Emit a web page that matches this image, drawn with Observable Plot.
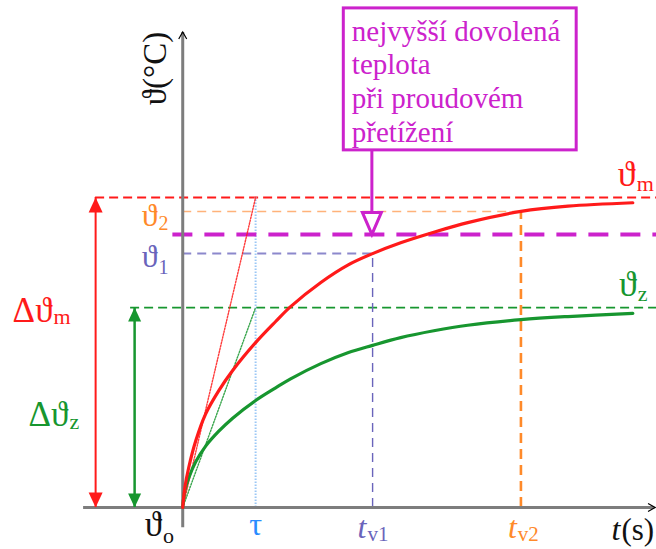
<!DOCTYPE html>
<html>
<head>
<meta charset="utf-8">
<script src="https://cdn.jsdelivr.net/npm/d3@7"></script>
<script src="https://cdn.jsdelivr.net/npm/@observablehq/plot@0.6"></script>
<style>
  html, body { margin: 0; padding: 0; background: #fff; }
  #chart svg { display: block; }
</style>
</head>
<body>
<div id="chart"></div>
<script>
// ---- data (t in s, temperatures in °C) ----
const tau = 20, tV1 = 52.1, tV2 = 92.8;
const theta0 = 20, thetaM = 120, theta2 = 115.5, thetaLimit = 108.1, theta1 = 101.9, thetaZ = 84.5;

const redT    = [0, 0.6, 1.65, 3.6, 6.3, 9.9, 13.7, 20, 25.5, 29.6, 37.9, 45.3, 52.1, 59.8, 68.9, 78.2, 92.8, 105.7, 123.5];
const redRise = [0, 6.5, 12.9, 21.6, 30.2, 37.7, 44.2, 53.2, 60.0, 64.8, 72.6, 78.2, 81.9, 85.4, 88.8, 91.9, 95.5, 97.2, 98.3];
const greenT    = [0, 0.6, 1.65, 3.6, 6.3, 9.9, 13.7, 20, 25.5, 29.6, 37.9, 45.3, 52.1, 59.8, 68.9, 78.2, 92.8, 105.7, 123.5];
const greenRise = [0, 5.5, 9.5, 14.8, 19.8, 24.6, 28.8, 34.5, 38.6, 41.5, 46.4, 49.9, 52.3, 54.8, 57.0, 58.8, 60.6, 61.6, 62.6];

const boxText = ["nejvyšší dovolená", "teplota", "při proudovém", "přetížení"];

const red = "#ff1a1a", green = "#17962f", magenta = "#cc22cc", orange = "#ff8a2a", orangeLight = "#ffb27a",
      purple = "#6a64bb", purpleLight = "#8c88cc", blue = "#2a8cff", blueLight = "#9cc8f5", axisGray = "#7d7d7d";

const redCurve = redT.map((t, i) => ({t, v: theta0 + redRise[i]}));
const greenCurve = greenT.map((t, i) => ({t, v: theta0 + greenRise[i]}));

// custom marker shapes (pixel geometry of symbols, tip at origin)
const tipUp = (w, h) => ({draw(c) { c.moveTo(0, 0); c.lineTo(-w / 2, h); c.lineTo(w / 2, h); c.closePath(); }});
const tipDown = (w, h) => ({draw(c) { c.moveTo(0, 0); c.lineTo(-w / 2, -h); c.lineTo(w / 2, -h); c.closePath(); }});
const chevUp = {draw(c) { c.moveTo(-4, 7); c.lineTo(0, 0); c.lineTo(4, 7); }};
const chevRight = {draw(c) { c.moveTo(-7, -4); c.lineTo(0, 0); c.lineTo(-7, 4); }};

const F = "'Liberation Serif', 'DejaVu Serif', serif";
const mctx = document.createElement("canvas").getContext("2d");
const textWidth = (s, size, style = "normal") => { mctx.font = `${style} ${size}px ${F}`; return mctx.measureText(s).width; };

const lbl = (text, x, y, fill, dx, dy, size, opts = {}) =>
  Plot.text([0], {x: () => x, y: () => y, text: () => text, fill, dx, dy, textAnchor: "start", lineAnchor: "bottom", fontSize: size, fontFamily: F, ...opts});
// base label followed by a subscript placed right after the measured base text
const lblSub = (base, subText, x, y, fill, dx, dy, subDy, size, subSize, style = "normal") => {
  const w = textWidth(base, size, style);
  return [lbl(base, x, y, fill, dx, dy, size, {fontStyle: style}), lbl(subText, x, y, fill, dx + w + 1, dy + subDy, subSize)];
};

const hseg = (v, a, b, stroke, strokeWidth, dash) =>
  Plot.ruleY([v], {x1: a, x2: b, stroke, strokeWidth, strokeDasharray: dash});
const vseg = (t, a, b, stroke, strokeWidth, dash) =>
  Plot.ruleX([t], {y1: a, y2: b, stroke, strokeWidth, strokeDasharray: dash});

const xLeft = -50, xRight = 130;
const redArrowT = -23.9, greenArrowT = -13.2;

const chart = Plot.plot({
  width: 656, height: 549,
  marginTop: 0, marginRight: 0, marginBottom: 0, marginLeft: 0,
  x: {domain: [xLeft, xRight], axis: null},
  y: {domain: [6.45, 183.55], axis: null},
  style: {fontFamily: F, background: "#fff"},
  marks: [
    // reference levels
    hseg(thetaM, redArrowT, xRight, red, 1.8, "9,5"),
    hseg(theta2, 0, tV2, orangeLight, 1.6, "9,6"),
    hseg(theta1, 0, tV1, purpleLight, 2, "9,6"),
    hseg(thetaZ, -14.3, xRight, green, 1.8, "9,5"),
    vseg(tau, theta0, thetaM, blueLight, 2, "1.5,1.5"),
    vseg(tV1, theta0, theta1, purple, 1.4, "9,6"),
    vseg(tV2, theta0, theta2, orange, 2.6, "10,6"),
    hseg(thetaLimit, -2.7, xRight, magenta, 4, "20,12"),
    // tangents
    Plot.line([{t: 0, v: theta0}, {t: tau, v: thetaM}], {x: "t", y: "v", stroke: red, strokeWidth: 1.4, strokeDasharray: "1.5,1.5", strokeOpacity: 0.85}),
    Plot.line([{t: 0, v: theta0}, {t: tau, v: thetaZ}], {x: "t", y: "v", stroke: green, strokeWidth: 1.4, strokeDasharray: "1.5,1.5", strokeOpacity: 0.85}),
    // axes
    hseg(theta0, -27.2, 129.3, axisGray, 3),
    vseg(0, 13.5, 173.2, axisGray, 3),
    Plot.dot([0], {x: () => 0, y: () => 173.4, symbol: chevUp, r: 5, fill: "none", stroke: "#000", strokeWidth: 1.2}),
    Plot.dot([0], {x: () => 129.6, y: () => theta0, symbol: chevRight, r: 5, fill: "none", stroke: "#000", strokeWidth: 1.2}),
    // curves
    Plot.line(greenCurve, {x: "t", y: "v", stroke: green, strokeWidth: 3.2, curve: "catmull-rom"}),
    Plot.line(redCurve, {x: "t", y: "v", stroke: red, strokeWidth: 3.2, curve: "catmull-rom"}),
    // delta arrows
    vseg(redArrowT, theta0, thetaM, red, 2),
    Plot.dot([0], {x: () => redArrowT, y: () => thetaM, symbol: tipUp(14, 15), r: 5, fill: red, stroke: "none"}),
    Plot.dot([0], {x: () => redArrowT, y: () => theta0, symbol: tipDown(14, 15), r: 5, fill: red, stroke: "none"}),
    vseg(greenArrowT, theta0, thetaZ, green, 2.5),
    Plot.dot([0], {x: () => greenArrowT, y: () => thetaZ, symbol: tipUp(13, 14), r: 5, fill: green, stroke: "none"}),
    Plot.dot([0], {x: () => greenArrowT, y: () => theta0, symbol: tipDown(13, 14), r: 5, fill: green, stroke: "none"}),
    // annotation box
    Plot.rect([0], {x1: () => 44.2, x2: () => 108.1, y1: () => 135.2, y2: () => 181, fill: "#fff", stroke: magenta, strokeWidth: 3}),
    Plot.text([boxText.join("\n")], {x: () => 46.4, y: () => 178.4, text: d => d, textAnchor: "start", lineAnchor: "top", lineHeight: 1.17, fontSize: 29, fontFamily: F, fill: magenta}),
    vseg(51.9, theta2, 135.2, magenta, 3),
    Plot.dot([0], {x: () => 51.9, y: () => thetaLimit, symbol: tipDown(19, 22), r: 5, fill: "#fff", stroke: magenta, strokeWidth: 3}),
    // labels
    Plot.text(["ϑ(°C)"], {x: () => 0, y: () => 161.6, text: d => d, rotate: -90, dx: -27, fontSize: 33, fontFamily: F, fill: "#111"}),
    ...lblSub("ϑ", "m", 119.4, thetaM, red, 0, -12, 5, 36, 22),
    ...lblSub("ϑ", "z", 119.7, thetaZ, green, 0, -12, 5, 36, 22),
    ...lblSub("ϑ", "2", 0, theta2, orange, -41, 15, 4, 32, 20),
    ...lblSub("ϑ", "1", 0, theta1, purple, -41, 13, 7, 32, 20),
    ...lblSub("Δϑ", "m", redArrowT, thetaM, red, -83, 124, 2, 35, 22),
    ...lblSub("Δϑ", "z", greenArrowT, thetaZ, green, -106, 118, 3, 35, 22),
    ...lblSub("ϑ", "o", 0, theta0, "#111", -38, 29, 7, 35, 22),
    lbl("τ", tau, theta0, blue, 0, 28, 32, {textAnchor: "middle"}),
    ...lblSub("t", "v1", tV1, theta0, purple, -15, 31, 3, 32, 21, "italic"),
    ...lblSub("t", "v2", tV2, theta0, orange, -13, 31, 3, 32, 21, "italic"),
    ...lblSub("t", "(s)", xRight, theta0, "#111", -45, 33, 0, 32, 31, "italic")
  ]
});
document.getElementById("chart").append(chart);
</script>
</body>
</html>
